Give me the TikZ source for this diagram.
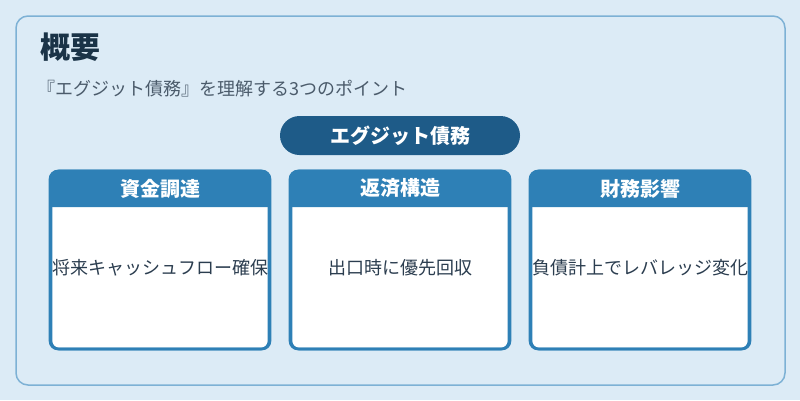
\documentclass[tikz,border=0pt]{standalone}
\usepackage{fontspec}
\setmainfont{Noto Sans CJK JP}
\newfontfamily\cjk{Noto Sans CJK JP}
\definecolor{bgc}{HTML}{DCEBF6}
\definecolor{panelline}{HTML}{7DB1D5}
\definecolor{titlec}{HTML}{1A3347}
\definecolor{subc}{HTML}{4B5B6B}
\definecolor{pillc}{HTML}{1E5B88}
\definecolor{cardc}{HTML}{2E80B6}
\definecolor{bodyc}{HTML}{2B3D4F}
\tikzset{
  cardbox/.style={draw=cardc, line width=2.6pt, fill=white, rounded corners=8pt, minimum width=218pt, minimum height=178pt, inner sep=0pt},
  headtext/.style={text=white, font=\cjk\bfseries\fontsize{20}{22}\selectfont, inner sep=0pt},
  bodytext/.style={text=bodyc, font=\cjk\fontsize{18}{20}\selectfont, inner sep=0pt},
}
\begin{document}
\begin{tikzpicture}[x=1pt,y=-1pt]
\useasboundingbox (0,0) rectangle (800,400);
\fill[bgc] (0,0) rectangle (800,400);
\draw[panelline, line width=1.5pt, fill=bgc, rounded corners=12pt] (16,16) rectangle (785,385);
\node[anchor=west, text=titlec, font=\cjk\bfseries\fontsize{30}{32}\selectfont, inner sep=0pt] (title) at (40,47.5) {概要};
\node[anchor=west, text=subc, font=\cjk\fontsize{18}{20}\selectfont, inner sep=0pt] (sub) at (37,89) {『エグジット債務』を理解する3つのポイント};
\node[fill=pillc, rounded corners=19.5pt, minimum width=240pt, minimum height=39pt, text=white, font=\cjk\bfseries\fontsize{20}{22}\selectfont, inner sep=0pt] (pill) at (400,135.5) {エグジット債務};
\foreach \cx/\nm/\hd/\bd in {160/a/資金調達/将来キャッシュフロー確保, 400/b/返済構造/出口時に優先回収, 640/c/財務影響/負債計上でレバレッジ変化}{
  \node[cardbox] (card\nm) at (\cx,260) {};
  \fill[cardc] (\cx-110,207) {[rounded corners=8pt] -- (\cx-110,170) -- (\cx+110,170)} -- (\cx+110,207) -- cycle;
  \draw[cardc, line width=2.6pt, rounded corners=8pt] (\cx-110,171) rectangle (\cx+110,349);
  \node[headtext] (head\nm) at (\cx,188.5) {\hd};
  \node[bodytext] (body\nm) at (\cx,268) {\bd};
}
\end{tikzpicture}
\end{document}
